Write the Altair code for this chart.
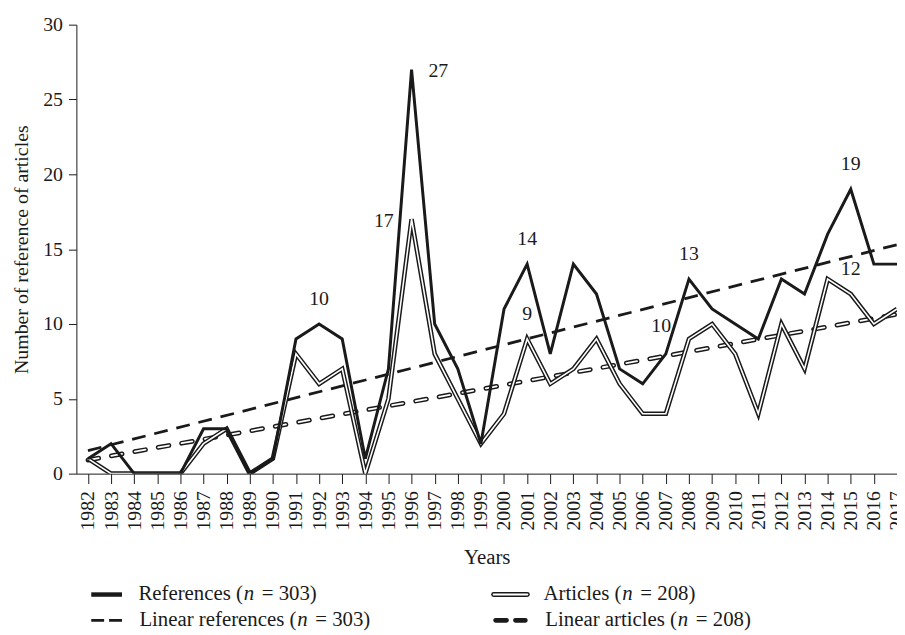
import altair as alt
import pandas as pd

years = list(range(1982, 2018))
references = [1, 2, 0, 0, 0, 3, 3, 0, 1, 9, 10, 9, 1, 7, 27, 10, 7, 2, 11, 14,
              8, 14, 12, 7, 6, 8, 13, 11, 10, 9, 13, 12, 16, 19, 14, 14]
articles = [1, 0, 0, 0, 0, 2, 3, 0, 1, 8, 6, 7, 0, 5, 17, 8, 5, 2, 4, 9,
            6, 7, 9, 6, 4, 4, 9, 10, 8, 4, 10, 7, 13, 12, 10, 11]

# annotations: labels above points
above_years = [1992, 2001, 2001, 2008, 2015, 2015]
above_values = [10, 14, 9, 13, 19, 12]
above_text = ["10", "14", "9", "13", "19", "12"]
# labels left of points
left_years = [1996, 2008]
left_values = [17, 10]
left_text = ["17", "10"]
# labels right of points
right_years = [1996]
right_values = [27]
right_text = ["27"]

legend_prefix = ["References (", "Linear references (", "Articles (", "Linear articles ("]
legend_suffix = ["= 303)", "= 303)", "= 208)", "= 208)"]

FONT = "Liberation Serif"
INK = "#1a1a1a"

df = pd.DataFrame({"year": years, "refs": references, "arts": articles})

xscale = alt.Scale(domain=[1981.5, 2017.0], nice=False, zero=False)
yscale = alt.Scale(domain=[0, 30], nice=False)

xax = alt.Axis(values=years, format="d", labelAngle=270, tickSize=10,
               labelPadding=7, title="Years", titlePadding=17,
               labelFont=FONT, titleFont=FONT, labelFontSize=20,
               titleFontSize=21, titleFontWeight="normal", grid=False,
               domainColor=INK, tickColor=INK, labelColor=INK, titleColor=INK,
               labelOverlap=False, labelFlush=False)
yax = alt.Axis(values=[0, 5, 10, 15, 20, 25, 30], tickSize=8, labelPadding=6,
               title="Number of reference of articles", titlePadding=11,
               labelFont=FONT, titleFont=FONT, labelFontSize=20,
               titleFontSize=20, titleFontWeight="normal", grid=False,
               domainColor=INK, tickColor=INK, labelColor=INK, titleColor=INK)

base = alt.Chart(df)

X = alt.X("year:Q", scale=xscale, axis=xax)
Y_refs = alt.Y("refs:Q", scale=yscale, axis=yax)
Y_arts = alt.Y("arts:Q", scale=yscale, axis=yax)

trend_refs = base.transform_regression("year", "refs").mark_line(
    color=INK, strokeWidth=2.8, strokeDash=[14, 9], clip=True
).encode(x=X, y=Y_refs)

trend_arts_out = base.transform_regression("year", "arts").mark_line(
    color=INK, strokeWidth=4.8, strokeDash=[11, 13], strokeCap="round", clip=True
).encode(x=X, y=Y_arts)
trend_arts_in = base.transform_regression("year", "arts").mark_line(
    color="white", strokeWidth=1.8, strokeDash=[11, 13], strokeCap="round", clip=True
).encode(x=X, y=Y_arts)

arts_out = base.mark_line(color=INK, strokeWidth=4.6, clip=True,
                          strokeJoin="miter").encode(x=X, y=Y_arts)
arts_in = base.mark_line(color="white", strokeWidth=1.6, clip=True,
                         strokeJoin="miter").encode(x=X, y=Y_arts)
refs_line = base.mark_line(color=INK, strokeWidth=3, clip=True,
                           strokeJoin="miter").encode(x=X, y=Y_refs)


def ann(yrs, vals, txt, dx, dy, align):
    d = pd.DataFrame({"year": yrs, "v": vals, "t": txt})
    return alt.Chart(d).mark_text(font=FONT, fontSize=20, color=INK, dx=dx,
                                  dy=dy, align=align, baseline="middle").encode(
        x=alt.X("year:Q", scale=xscale, axis=xax),
        y=alt.Y("v:Q", scale=yscale, axis=yax), text="t:N")


ann_above = ann(above_years, above_values, above_text, 0, -25, "center")
ann_left = ann(left_years, left_values, left_text, -18, 2, "right")
ann_right = ann(right_years, right_values, right_text, 17, 2, "left")

# manual legend (pixel positions relative to plot origin)
one = df[df.year == 1982]


def txt(x, y, s, align="left", italic=False):
    return alt.Chart(one).mark_text(
        font=FONT, fontSize=21, color=INK, align=align, baseline="middle",
        fontStyle="italic" if italic else "normal", text=s
    ).encode(x=alt.value(x), y=alt.value(y))


def rule(x1, x2, y, color, w, dash=None, cap="butt"):
    kw = dict(color=color, strokeWidth=w, strokeCap=cap)
    if dash:
        kw["strokeDash"] = dash
    return alt.Chart(one).mark_rule(**kw).encode(
        x=alt.value(x1), x2=alt.value(x2), y=alt.value(y))


def legend_entry(i, n_x, y):
    return [
        txt(n_x - 6, y, legend_prefix[i], align="right"),
        txt(n_x, y, "n", align="center", italic=True),
        txt(n_x + 13, y, legend_suffix[i], align="left"),
    ]


R1, R2 = 575, 601
C1S, C1E = 15, 46
C2S, C2E = 421, 455

leg_layers = []
leg_layers.append(rule(C1S, C1E, R1, INK, 4.5))
leg_layers += legend_entry(0, 174, R1)
leg_layers.append(rule(C1S, C1E, R2, INK, 2.8, dash=[13, 5]))
leg_layers += legend_entry(1, 228, R2)
leg_layers.append(rule(C2S, C2E, R1, INK, 5, cap="round"))
leg_layers.append(rule(C2S, C2E, R1, "white", 2, cap="round"))
leg_layers += legend_entry(2, 556, R1)
leg_layers.append(rule(C2S + 2, C2E - 2, R2, INK, 4.8, dash=[11, 9], cap="round"))
leg_layers += legend_entry(3, 612, R2)

chart = alt.layer(
    trend_arts_out, trend_arts_in, trend_refs, arts_out, arts_in, refs_line,
    ann_above, ann_left, ann_right, *leg_layers
).properties(
    width=828, height=453,
    autosize=alt.AutoSizeParams(type="none"),
    padding={"left": 69, "top": 14, "right": 0, "bottom": 160},
    background="white",
).configure_view(strokeWidth=0)

chart.save("out.html", embed_options={"renderer": "svg", "actions": False})
